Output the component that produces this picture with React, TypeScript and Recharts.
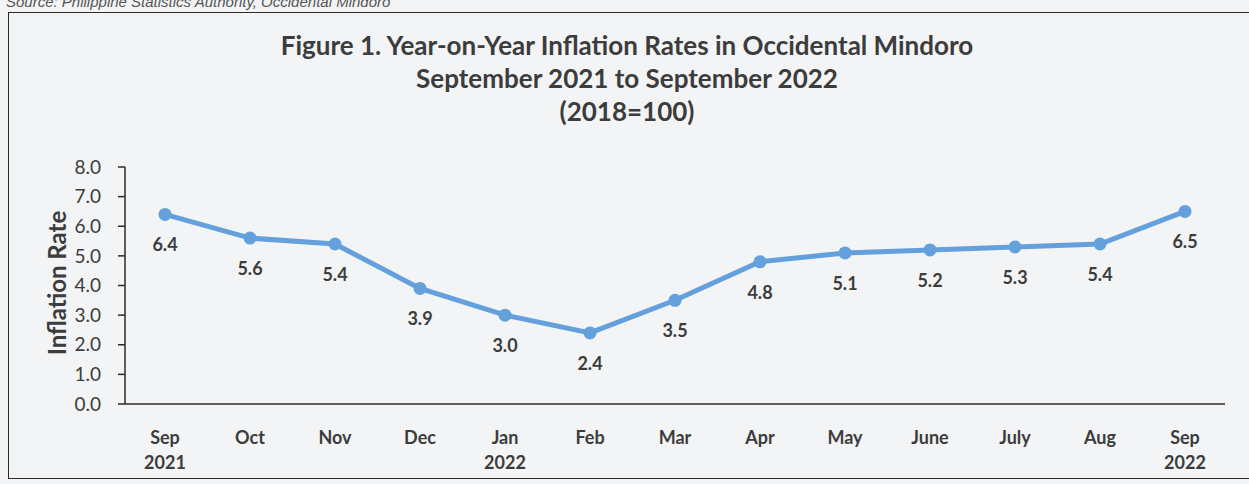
import React from "react";
import { LineChart, Line, XAxis, YAxis, LabelList } from "recharts";

const months = ["Sep", "Oct", "Nov", "Dec", "Jan", "Feb", "Mar", "Apr", "May", "June", "July", "Aug", "Sep"];
const years = ["2021", "", "", "", "2022", "", "", "", "", "", "", "", "2022"];
const rates = [6.4, 5.6, 5.4, 3.9, 3.0, 2.4, 3.5, 4.8, 5.1, 5.2, 5.3, 5.4, 6.5];
const yTicks = [0, 1, 2, 3, 4, 5, 6, 7, 8];

const data = months.map((m, i) => ({ key: `${m}-${i}`, month: m, year: years[i], rate: rates[i] }));

const FONT = "Lato, 'Open Sans', sans-serif";
const TEXT = "#3c3c3c";
const LINE = "#64a0dc";

function MonthTick(props: any) {
  const { x, y, payload } = props;
  const d = data[payload.index];
  return (
    <text x={x} y={y} textAnchor="middle" fontFamily={FONT} fontWeight={700} fontSize={18} fill={TEXT}>
      <tspan x={x} dy={32}>{d.month}</tspan>
      {d.year && <tspan x={x} dy={25}>{d.year}</tspan>}
    </text>
  );
}

export default function App() {
  return (
    <div
      style={{
        position: "absolute",
        left: 0,
        top: 0,
        width: 1249,
        height: 484,
        overflow: "hidden",
        background: "#f2f4f6",
        fontFamily: FONT,
      }}
    >
      <div
        style={{
          position: "absolute",
          left: 6,
          top: -7,
          fontSize: 15,
          fontStyle: "italic",
          color: "#555",
          fontFamily: "'Liberation Sans', sans-serif",
          whiteSpace: "nowrap",
        }}
      >
        Source: Philippine Statistics Authority, Occidental Mindoro
      </div>
      <div
        style={{
          position: "absolute",
          left: 8,
          top: 12,
          width: 1260,
          height: 465,
          border: "1.5px solid #2b2b2b",
        }}
      />
      <div
        style={{
          position: "absolute",
          left: 0,
          top: 29,
          width: 1254,
          textAlign: "center",
          fontWeight: 700,
          fontSize: 26,
          lineHeight: "33px",
          color: TEXT,
        }}
      >
        <div>Figure 1. Year-on-Year Inflation Rates in Occidental Mindoro</div>
        <div>September 2021 to September 2022</div>
        <div>(2018=100)</div>
      </div>
      <div
        style={{
          position: "absolute",
          left: 56,
          top: 283,
          transform: "translate(-50%, -50%) rotate(-90deg)",
          fontWeight: 700,
          fontSize: 24,
          color: TEXT,
          whiteSpace: "nowrap",
        }}
      >
        Inflation Rate
      </div>
      <div style={{ position: "absolute", left: 0, top: 0 }}>
        <LineChart width={1249} height={484} data={data} margin={{ top: 167, right: 24, bottom: 0, left: 65 }}>
          <XAxis
            dataKey="key"
            height={80}
            padding={{ left: 40, right: 40 }}
            axisLine={{ stroke: "#2b2b2b", strokeWidth: 1.5 }}
            tickLine={false}
            tick={<MonthTick />}
            interval={0}
          />
          <YAxis
            width={60}
            domain={[0, 8]}
            ticks={yTicks}
            interval={0}
            tickFormatter={(v: number) => v.toFixed(1)}
            axisLine={{ stroke: "#2b2b2b", strokeWidth: 1.5 }}
            tickLine={{ stroke: "#2b2b2b", strokeWidth: 1.5 }}
            tickSize={7}
            tickMargin={17}
            tick={{ fontFamily: FONT, fontSize: 19, fill: TEXT }}
          />
          <Line
            type="linear"
            dataKey="rate"
            stroke={LINE}
            strokeWidth={5}
            dot={{ r: 6.5, fill: LINE, stroke: LINE, strokeWidth: 0 }}
            isAnimationActive={false}
          >
            <LabelList
              dataKey="rate"
              position="bottom"
              offset={24}
              formatter={(v: any) => Number(v).toFixed(1)}
              style={{ fontFamily: FONT, fontWeight: 700, fontSize: 18, fill: TEXT }}
            />
          </Line>
        </LineChart>
      </div>
    </div>
  );
}
